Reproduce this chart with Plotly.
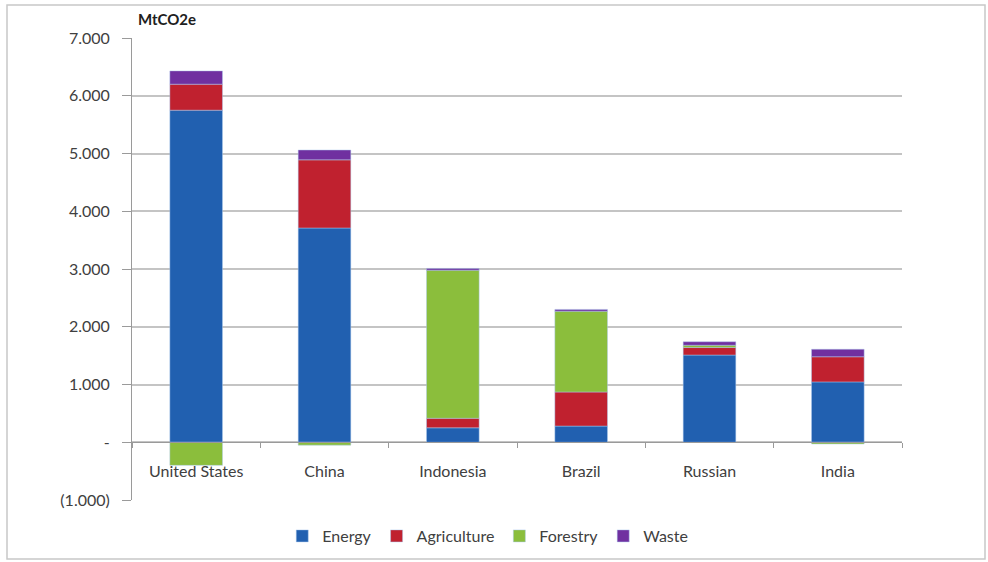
import plotly.graph_objects as go

countries = ["United States", "China", "Indonesia", "Brazil", "Russian", "India"]
energy = [5750, 3710, 250, 280, 1510, 1045]
agriculture = [450, 1180, 165, 590, 130, 435]
forestry = [-400, -50, 2565, 1400, 40, -30]
waste = [230, 170, 30, 30, 60, 130]

series = [
    ("Energy", energy, "#2160B0"),
    ("Agriculture", agriculture, "#C0212F"),
    ("Forestry", forestry, "#8BBE3C"),
    ("Waste", waste, "#7030A0"),
]

tick_vals = [-1000, 0, 1000, 2000, 3000, 4000, 5000, 6000, 7000]
tick_text = ["(1.000)", "-", "1.000", "2.000", "3.000", "4.000", "5.000", "6.000", "7.000"]

fig = go.Figure()
for name, vals, color in series:
    fig.add_trace(go.Bar(
        name=name, x=countries, y=vals,
        marker=dict(color=color, line=dict(color="rgba(170,200,235,0.6)", width=0.8)),
    ))

y_min, y_max = -1000, 7000
dom0, dom1 = 0.0, 1.0
zero_pos = dom0 + (dom1 - dom0) * (0 - y_min) / (y_max - y_min)

L, R, T, B = 132, 86, 38, 62
PW, PH = 988 - L - R, 562 - T - B

fig.update_layout(
    barmode="relative",
    bargap=0.59,
    width=988, height=562,
    margin=dict(l=L, r=R, t=T, b=B, autoexpand=False),
    paper_bgcolor="white", plot_bgcolor="white",
    font=dict(family="Lato, Open Sans, sans-serif", size=16, color="#404040"),
    legend=dict(orientation="h", x=0.462, xanchor="center", y=(500 - 536) / PH, yanchor="middle",
                font=dict(size=16), traceorder="normal", bgcolor="rgba(0,0,0,0)"),
    xaxis=dict(
        domain=[0, 1], anchor="free", position=zero_pos,
        showline=True, linecolor="#9A9A9A", linewidth=1,
        ticks="outside", tickson="boundaries", ticklen=5, tickcolor="#9A9A9A",
        showgrid=False, tickfont=dict(size=16, color="#404040"),
        ticklabelstandoff=15,
    ),
    yaxis=dict(
        domain=[dom0, dom1], range=[y_min, y_max],
        tickvals=tick_vals, ticktext=tick_text,
        showgrid=True, gridcolor="#C4C4C4", gridwidth=1.5,
        showline=True, linecolor="#9A9A9A", linewidth=1,
        ticks="outside", ticklen=9, tickcolor="#9A9A9A",
        zeroline=False, tickfont=dict(size=16, color="#404040"),
        ticklabelstandoff=9,
    ),
    shapes=[dict(type="rect", xref="paper", yref="paper",
                 x0=(7 - L) / PW, x1=(985 - L) / PW,
                 y0=(500 - 559) / PH, y1=(500 - 5) / PH,
                 line=dict(color="#C8C8C8", width=1.5))],
    annotations=[dict(text="<b>MtCO2e</b>", xref="paper", yref="paper",
                      x=0.005, y=(500 - 8) / PH, xanchor="left", yanchor="top",
                      showarrow=False, font=dict(size=15, color="#202020"))],
)

fig.write_html("out.html", config={"displayModeBar": False},
               post_script="document.body.style.margin='0';document.body.style.overflow='hidden';")
